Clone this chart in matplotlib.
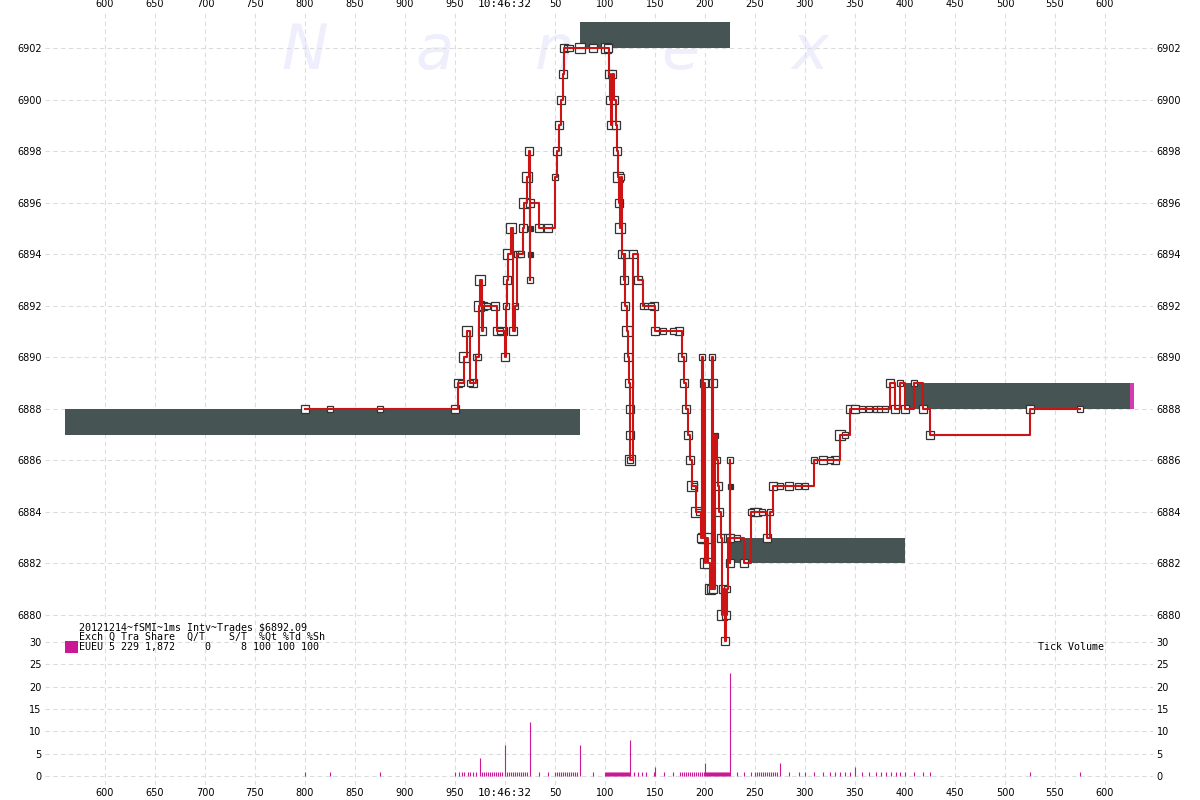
import matplotlib
matplotlib.use('Agg')
import matplotlib.pyplot as plt
from matplotlib.patches import Rectangle

# ---------------- data ----------------
# time axis in ms, 1000 == 10:46:32.000
x_ticks = [600, 650, 700, 750, 800, 850, 900, 950, 1000, 1050, 1100, 1150, 1200,
           1250, 1300, 1350, 1400, 1450, 1500, 1550, 1600]
x_tick_labels = ['600', '650', '700', '750', '800', '850', '900', '950', '10:46:32',
                 '50', '100', '150', '200', '250', '300', '350', '400', '450', '500',
                 '550', '600']
price_ticks = [6880, 6882, 6884, 6886, 6888, 6890, 6892, 6894, 6896, 6898, 6900, 6902]
vol_ticks = [0, 5, 10, 15, 20, 25, 30]

# trades (time, price, size class: 0 = dark, 1 small, 2 medium, 3 large)
trade_time = [800, 825, 875, 950, 953, 956, 959, 962, 965, 968,
              971, 973, 974, 975, 977, 978, 980, 982, 990, 992,
              995, 998, 1000, 1001, 1002, 1003, 1006, 1008, 1010, 1012,
              1014, 1016, 1018, 1019, 1022, 1024, 1025, 1025, 1025, 1025,
              1034, 1043, 1050, 1052, 1054, 1056, 1058, 1059, 1062, 1065,
              1075, 1088, 1101, 1103, 1104, 1105, 1106, 1107, 1109, 1111,
              1112, 1113, 1114, 1115, 1116, 1117, 1119, 1120, 1120, 1122,
              1123, 1124, 1125, 1125, 1125, 1125, 1128, 1133, 1138, 1142,
              1146, 1149, 1150, 1158, 1168, 1174, 1177, 1179, 1181, 1183,
              1185, 1187, 1189, 1191, 1194, 1196, 1197, 1198, 1199, 1200,
              1201, 1203, 1205, 1206, 1207, 1208, 1208, 1210, 1212, 1213,
              1214, 1216, 1217, 1218, 1220, 1221, 1222, 1223, 1225, 1225,
              1225, 1225, 1232, 1239, 1246, 1249, 1252, 1257, 1262, 1265,
              1268, 1275, 1284, 1293, 1300, 1309, 1318, 1325, 1330, 1335,
              1340, 1345, 1350, 1357, 1364, 1371, 1375, 1380, 1385, 1390,
              1395, 1400, 1409, 1418, 1425, 1525, 1575]
trade_price = [6888, 6888, 6888, 6888, 6889, 6889, 6890, 6891, 6889, 6889,
               6890, 6890, 6892, 6893, 6891, 6892, 6892, 6892, 6892, 6891,
               6891, 6891, 6890, 6892, 6893, 6894, 6895, 6891, 6892, 6894,
               6894, 6894, 6895, 6896, 6897, 6898, 6893, 6894, 6895, 6896,
               6895, 6895, 6897, 6898, 6899, 6900, 6901, 6902, 6902, 6902,
               6902, 6902, 6902, 6902, 6901, 6900, 6899, 6901, 6900, 6899,
               6898, 6897, 6896, 6895, 6897, 6894, 6893, 6894, 6892, 6891,
               6890, 6889, 6888, 6887, 6886, 6886, 6894, 6893, 6892, 6892,
               6892, 6892, 6891, 6891, 6891, 6891, 6890, 6889, 6888, 6887,
               6886, 6885, 6885, 6884, 6884, 6883, 6890, 6883, 6889, 6882,
               6883, 6882, 6881, 6881, 6890, 6889, 6881, 6887, 6886, 6885,
               6884, 6883, 6880, 6881, 6879, 6880, 6881, 6883, 6886, 6885,
               6882, 6883, 6883, 6882, 6884, 6884, 6884, 6884, 6883, 6884,
               6885, 6885, 6885, 6885, 6885, 6886, 6886, 6886, 6886, 6887,
               6887, 6888, 6888, 6888, 6888, 6888, 6888, 6888, 6889, 6888,
               6889, 6888, 6889, 6888, 6887, 6888, 6888]
trade_size = [2, 1, 1, 2, 2, 1, 3, 3, 1, 2,
              1, 1, 3, 3, 2, 2, 1, 1, 2, 2,
              1, 2, 2, 1, 2, 3, 3, 2, 1, 1,
              1, 1, 2, 3, 3, 2, 1, 0, 0, 2,
              2, 2, 1, 2, 2, 2, 2, 2, 1, 1,
              3, 2, 3, 2, 2, 2, 2, 2, 2, 2,
              2, 3, 2, 3, 1, 2, 2, 2, 2, 3,
              2, 2, 2, 2, 3, 1, 2, 2, 1, 1,
              1, 2, 2, 1, 1, 2, 2, 2, 2, 2,
              2, 3, 1, 3, 1, 2, 1, 3, 2, 3,
              3, 3, 3, 2, 1, 2, 2, 0, 1, 2,
              2, 2, 3, 2, 2, 2, 1, 2, 1, 0,
              2, 2, 1, 2, 1, 2, 2, 1, 2, 1,
              2, 1, 2, 1, 1, 1, 2, 1, 2, 3,
              1, 2, 2, 1, 1, 1, 1, 1, 2, 2,
              1, 2, 1, 2, 2, 2, 1]

# quote (bid/ask) bands
quote_start = [560, 1075, 1225, 1400]
quote_end = [1075, 1225, 1400, 1625]
quote_low = [6887, 6902, 6882, 6888]
quote_high = [6888, 6903, 6883, 6889]
last_quote_start = [1625]
last_quote_end = [1629]

# tick volume (trades per ms)
vol_time = [800, 825, 875,
            950, 954, 957, 959, 963, 965, 968, 971, 975,
            977, 979, 981, 983, 985, 987, 989, 991, 993, 995, 997, 1000,
            1002, 1004, 1006, 1008, 1010, 1012, 1014, 1016, 1018, 1020, 1022, 1025,
            1034, 1043,
            1050, 1052, 1054, 1056, 1058, 1060, 1062, 1064, 1066, 1068, 1070, 1072, 1075,
            1088,
            1100, 1101, 1102, 1103, 1104, 1105, 1106, 1107, 1108, 1109, 1110, 1111, 1112,
            1113, 1114, 1115, 1116, 1117, 1118, 1119, 1120, 1121, 1122, 1123, 1124, 1125,
            1129, 1133, 1137, 1141, 1149, 1150, 1159, 1168,
            1175, 1177, 1179, 1181, 1183, 1185, 1187, 1189, 1191, 1193, 1195, 1197, 1199,
            1200, 1201, 1202, 1203, 1204, 1205, 1206, 1207, 1208, 1209, 1210, 1211, 1212,
            1213, 1214, 1215, 1216, 1217, 1218, 1219, 1220, 1221, 1222, 1223, 1224, 1225,
            1232, 1239, 1246, 1250, 1252, 1254, 1256, 1258, 1260, 1262, 1264, 1266, 1268,
            1270, 1272, 1275, 1284, 1294,
            1300, 1309, 1318, 1325, 1330, 1335, 1340, 1345, 1350, 1357, 1364, 1371, 1376,
            1381, 1386, 1391, 1395, 1400, 1409, 1418, 1425, 1525, 1575]
vol_count = [1, 1, 1,
             1, 1, 1, 1, 1, 1, 1, 1, 4,
             1, 1, 1, 1, 1, 1, 1, 1, 1, 1, 1, 7,
             1, 1, 1, 1, 1, 1, 1, 1, 1, 1, 1, 12,
             1, 1,
             1, 1, 1, 1, 1, 1, 1, 1, 1, 1, 1, 1, 7,
             1,
             1, 1, 1, 1, 1, 1, 1, 1, 1, 1, 1, 1, 1,
             1, 1, 1, 1, 1, 1, 1, 1, 1, 1, 1, 1, 8,
             1, 1, 1, 1, 1, 2, 1, 1,
             1, 1, 1, 1, 1, 1, 1, 1, 1, 1, 1, 1, 1,
             3, 1, 1, 1, 1, 1, 1, 1, 1, 1, 1, 1, 1,
             1, 1, 1, 1, 1, 1, 1, 1, 1, 1, 1, 1, 23,
             1, 1, 1, 1, 1, 1, 1, 1, 1, 1, 1, 1, 1,
             1, 1, 3, 1, 1,
             1, 1, 1, 1, 1, 1, 1, 1, 2, 1, 1, 1, 1,
             1, 1, 1, 1, 1, 1, 1, 1, 1, 1]

title_line = '20121214~fSMI~1ms Intv~Trades $6892.09'
header_line = 'Exch Q Tra Share  Q/T    S/T  %Qt %Td %Sh'
row_line = 'EUEU 5 229 1,872     0     8 100 100 100'
watermark = ['N', 'a', 'n', 'e', 'x']

# ---------------- styling ----------------
W, H = 1200, 800
RED = '#CC1414'
GRAY_BAR = '#465454'
MAGENTA = '#CC1896'
GRID = '#DCDCDC'
EDGE = '#333333'
MONO = 'DejaVu Sans Mono'


def fx(p):
    return p / W


def fy(p):
    return 1 - p / H


fig = plt.figure(figsize=(12, 8), dpi=100)
fig.patch.set_facecolor('white')

ax = fig.add_axes([fx(45), fy(640), fx(1153) - fx(45), fy(12) - fy(640)])
axv = fig.add_axes([fx(45), fy(785), fx(1153) - fx(45), fy(640) - fy(785)])
for a in (ax, axv):
    a.set_facecolor('none')
    for s in a.spines.values():
        s.set_visible(False)
    a.set_xlim(540, 1648)
    a.set_xticks(x_ticks)
    a.set_axisbelow(True)
    a.grid(True, color=GRID, linestyle=(0, (4, 3)), linewidth=0.8)

ax.set_ylim(6902 - (640 - 48) / 25.77, 6902 + (48 - 12) / 25.77)
axv.set_ylim(-(785 - 776) / 4.467, (776 - 640) / 4.467)

# watermark (behind the data)
wm_x = [305, 435, 555, 680, 810]
for ch, xp in zip(watermark, wm_x):
    ax.text(fx(xp), fy(52), ch, fontsize=45, style='italic', color='#EEEEFD',
            ha='center', va='center', zorder=0.5, transform=fig.transFigure,
            clip_on=False)

# ticks
ax.set_yticks(price_ticks)
ax.set_yticklabels([str(v) for v in price_ticks])
ax.tick_params(axis='y', left=True, right=True, labelleft=True, labelright=True,
               length=0, pad=2.5, labelsize=7)
ax.tick_params(axis='x', top=True, bottom=False, labeltop=True, labelbottom=False,
               length=0, pad=2.5, labelsize=7)
ax.set_xticklabels(x_tick_labels)

axv.set_yticks(vol_ticks)
axv.set_yticklabels([str(v) for v in vol_ticks])
axv.tick_params(axis='y', left=True, right=True, labelleft=True, labelright=True,
                length=0, pad=2.5, labelsize=7)
axv.tick_params(axis='x', length=0, pad=2.5, labelsize=7)
axv.set_xticklabels(x_tick_labels)

for a in (ax, axv):
    for lab in a.get_xticklabels():
        if ':' in lab.get_text():
            lab.set_fontfamily(MONO)
            lab.set_fontsize(8)

# partially visible top label (cut at the top edge, as in the original)
for xp, ha in ((42, 'right'), (1157, 'left')):
    fig.text(fx(xp), fy(-3.5), '6904', ha=ha, va='center', fontsize=7)

# quote bands
ax.bar(x=quote_start, height=[h - l for l, h in zip(quote_low, quote_high)],
       width=[e - s for s, e in zip(quote_start, quote_end)], bottom=quote_low,
       align='edge', color=GRAY_BAR, linewidth=0, zorder=2)
ax.bar(x=last_quote_start, height=[quote_high[-1] - quote_low[-1]],
       width=[e - s for s, e in zip(last_quote_start, last_quote_end)],
       bottom=[quote_low[-1]], align='edge', color='#D43CB0', linewidth=0, zorder=2)

# trade markers
ms_map = {0: 3.6, 1: 4.0, 2: 6.0, 3: 7.6}
for code in (3, 2, 1, 0):
    xs = [t for t, s in zip(trade_time, trade_size) if s == code]
    ys = [p for p, s in zip(trade_price, trade_size) if s == code]
    ax.plot(xs, ys, linestyle='none', marker='s', markersize=ms_map[code],
            markerfacecolor=EDGE if code == 0 else 'white', markeredgecolor=EDGE,
            markeredgewidth=0.9, zorder=3, clip_on=False)

# trade step line
ax.step(trade_time, trade_price, where='post', color=RED, linewidth=1.5,
        zorder=4, clip_on=False)

# tick volume
axv.vlines(vol_time, 0, vol_count, color=MAGENTA, linewidth=0.8, zorder=3)

# legend text block
fig.text(fx(79), fy(627), title_line, fontfamily=MONO, fontsize=7.2, va='center')
fig.text(fx(79), fy(637), header_line, fontfamily=MONO, fontsize=7.2, va='center')
fig.text(fx(79), fy(647), row_line, fontfamily=MONO, fontsize=7.2, va='center')
fig.patches.append(Rectangle((fx(65), fy(653)), fx(13), 12 / H, transform=fig.transFigure,
                             facecolor=MAGENTA, edgecolor='none'))
fig.text(fx(1038), fy(647), 'Tick Volume', fontfamily=MONO, fontsize=7.2, va='center')

fig.savefig('out.png', dpi=100, facecolor='white')
